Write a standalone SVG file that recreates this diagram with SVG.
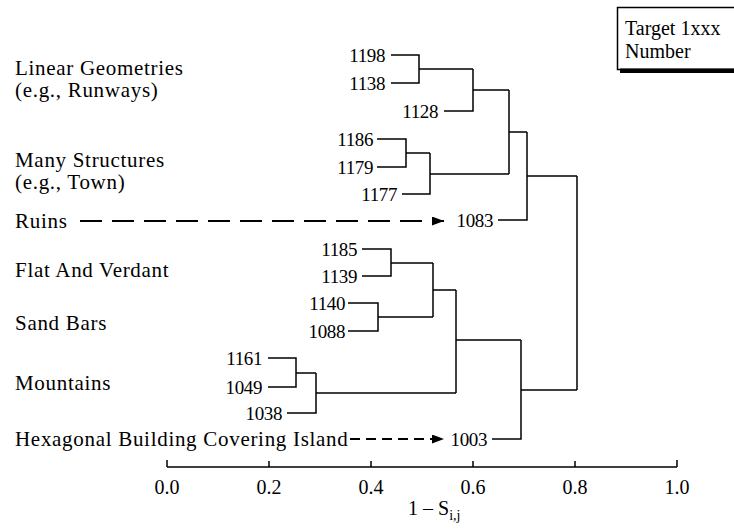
<svg xmlns="http://www.w3.org/2000/svg" width="734" height="529" viewBox="0 0 734 529" font-family="'Liberation Serif', 'Times New Roman', serif">
<defs>
<style>
text{font-family:'Liberation Serif','Times New Roman',serif;fill:#000}
.lab{font-size:21px;letter-spacing:0.7px}
.num{font-size:19px;letter-spacing:-0.4px;text-anchor:end}
.ax{font-size:20px;text-anchor:middle}
.leg{font-size:20px}
.ln{fill:none;stroke:#000;stroke-width:1.5}
</style>
<marker id="ah" markerUnits="userSpaceOnUse" markerWidth="13" markerHeight="9" refX="12" refY="4.5" orient="auto">
<path d="M0,0 L12,4.5 L0,9 z" fill="#000"/>
</marker>
</defs>
<rect width="734" height="529" fill="#fff"/>

<g id="legend">
<rect x="617.5" y="7.5" width="130" height="62" fill="#fff" stroke="#000" stroke-width="1.5"/>
<rect x="620" y="68.5" width="114" height="4.5" fill="#000"/>
<text class="leg" x="625" y="35">Target 1xxx</text>
<text class="leg" x="625" y="58">Number</text>
</g>

<g id="cat-linear"><text class="lab" x="15" y="75">Linear Geometries</text><text class="lab" x="15" y="97">(e.g., Runways)</text></g>
<g id="cat-many"><text class="lab" x="15" y="167">Many Structures</text><text class="lab" x="15" y="189">(e.g., Town)</text></g>
<g id="cat-ruins"><text class="lab" x="15" y="228">Ruins</text></g>
<g id="cat-flat"><text class="lab" x="15" y="277">Flat And Verdant</text></g>
<g id="cat-sand"><text class="lab" x="15" y="330">Sand Bars</text></g>
<g id="cat-mountains"><text class="lab" x="15" y="390">Mountains</text></g>
<g id="cat-hex"><text class="lab" x="15" y="446">Hexagonal Building Covering Island</text></g>

<g id="n1198"><text class="num" x="385" y="61.5">1198</text></g>
<g id="n1138"><text class="num" x="385" y="89.5">1138</text></g>
<g id="n1128"><text class="num" x="438" y="117.5">1128</text></g>
<g id="n1186"><text class="num" x="373" y="145.5">1186</text></g>
<g id="n1179"><text class="num" x="373" y="173.5">1179</text></g>
<g id="n1177"><text class="num" x="397" y="200.5">1177</text></g>
<g id="n1083"><text class="num" x="493" y="226.5">1083</text></g>
<g id="n1185"><text class="num" x="357" y="255.5">1185</text></g>
<g id="n1139"><text class="num" x="357" y="282.5">1139</text></g>
<g id="n1140"><text class="num" x="345" y="309.5">1140</text></g>
<g id="n1088"><text class="num" x="345" y="337.5">1088</text></g>
<g id="n1161"><text class="num" x="262" y="364.5">1161</text></g>
<g id="n1049"><text class="num" x="262" y="393.5">1049</text></g>
<g id="n1038"><text class="num" x="282" y="419.5">1038</text></g>
<g id="n1003"><text class="num" x="487" y="445.5">1003</text></g>

<g id="connectors">
<path class="ln" d="M391,55 H419 V83 H391 M419,69 H473 M444,111 H473 V69 M473,90 H509"/>
<path class="ln" d="M377,139 H406 V167 H377 M406,153 H430 M402,194 H430 V153 M430,174 H509 M509,90 V174 M509,132 H527 M498,220 H527 V132 M527,176 H577"/>
<path class="ln" d="M362,249 H391 V276 H362 M391,263 H433 M348,303 H378 V331 H348 M378,317 H433 M433,263 V317 M433,290 H456"/>
<path class="ln" d="M268,358 H296 V387 H268 M296,373 H316 M287,413 H316 V373 M316,393 H456 M456,290 V393 M456,340 H521 M492,439 H521 V340 M521,390 H577 M577,176 V390"/>
<path d="M80,221 H444" fill="none" stroke="#000" stroke-width="2" stroke-dasharray="22 10" marker-end="url(#ah)"/>
<path d="M350,439 H444" fill="none" stroke="#000" stroke-width="1.8" stroke-dasharray="10 6" marker-end="url(#ah)"/>
</g>

<g id="axis">
<path class="ln" d="M167,467 H677 M167,460 V467 M269,461 V467 M371,461 V467 M473,461 V467 M575,461 V467 M677,460 V467"/>
<text class="ax" x="167" y="494">0.0</text>
<text class="ax" x="269" y="494">0.2</text>
<text class="ax" x="371" y="494">0.4</text>
<text class="ax" x="473" y="494">0.6</text>
<text class="ax" x="575" y="494">0.8</text>
<text class="ax" x="677" y="494">1.0</text>
<text x="408" y="515" style="font-size:20px">1 – S<tspan style="font-size:14px" dy="5">i,j</tspan></text>
</g>
</svg>
